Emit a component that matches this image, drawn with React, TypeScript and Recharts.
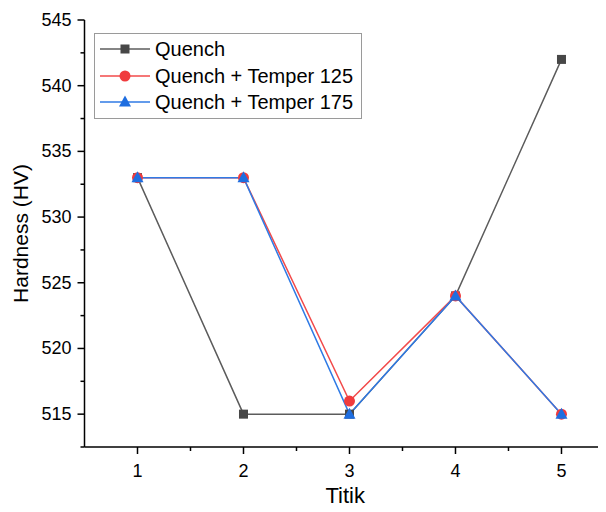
import React from "react";
import { LineChart, Line, XAxis, YAxis } from "recharts";

const titik = [1, 2, 3, 4, 5];
const quench = [533, 515, 515, 524, 542];
const temper125 = [533, 533, 516, 524, 515];
const temper175 = [533, 533, 515, 524, 515];

const xTicks = [1, 1.5, 2, 2.5, 3, 3.5, 4, 4.5, 5];
const yTicks = [512.5, 515, 517.5, 520, 522.5, 525, 527.5, 530, 532.5, 535, 537.5, 540, 542.5, 545];

const data = titik.map((t, i) => ({
  titik: t,
  quench: quench[i],
  temper125: temper125[i],
  temper175: temper175[i],
}));

const FONT = "'Liberation Sans', Arial, sans-serif";

const series = [
  { key: "quench", name: "Quench", line: "#5c5c5c", fill: "#474747", shape: "square" },
  { key: "temper125", name: "Quench + Temper 125", line: "#f24a4a", fill: "#f03b3d", shape: "circle" },
  { key: "temper175", name: "Quench + Temper 175", line: "#2f7ae5", fill: "#1f6ee0", shape: "triangle" },
];

const Marker = ({ shape, cx, cy, fill }: any) => {
  if (cx == null || cy == null) return null;
  if (shape === "square") return <rect x={cx - 4.5} y={cy - 4.5} width={9} height={9} fill={fill} />;
  if (shape === "circle") return <circle cx={cx} cy={cy} r={5.5} fill={fill} />;
  return <polygon points={`${cx},${cy - 6.5} ${cx + 6},${cy + 4.5} ${cx - 6},${cy + 4.5}`} fill={fill} />;
};

const XTick = ({ x, y, payload }: any) => {
  const major = Number.isInteger(payload.value);
  return (
    <g>
      <line x1={x} x2={x} y1={y} y2={y + (major ? 7 : 4)} stroke="#000" strokeWidth={1.5} />
      {major && (
        <text x={x} y={y + 30} textAnchor="middle" fontSize={18} fontFamily={FONT} fill="#000">
          {payload.value}
        </text>
      )}
    </g>
  );
};

const YTick = ({ x, y, payload }: any) => {
  const major = payload.value % 5 === 0;
  return (
    <g>
      <line x1={x} x2={x - (major ? 7 : 4)} y1={y} y2={y} stroke="#000" strokeWidth={1.5} />
      {major && (
        <text x={x - 13} y={y + 6} textAnchor="end" fontSize={18} fontFamily={FONT} fill="#000">
          {payload.value}
        </text>
      )}
    </g>
  );
};

// axis title under the x axis, placed from the axis' own viewBox
const XTitle = ({ viewBox }: any) => {
  if (!viewBox) return null;
  return (
    <text
      x={viewBox.x + viewBox.width / 2}
      y={viewBox.y + viewBox.height - 9}
      textAnchor="middle"
      fontSize={22}
      fontFamily={FONT}
      fill="#000"
    >
      Titik
    </text>
  );
};

const LegendBox = () => (
  <div
    style={{
      position: "absolute",
      top: 33,
      left: 94,
      border: "1px solid #9a9a9a",
      background: "#fff",
      padding: "2px 8px 2px 3px",
      fontFamily: FONT,
      fontSize: 20,
      lineHeight: "26.5px",
      color: "#000",
    }}
  >
    {series.map((s) => (
      <div key={s.key} style={{ display: "flex", alignItems: "center" }}>
        <svg width={54} height={20} style={{ marginRight: 3 }}>
          <line x1={2} x2={52} y1={10} y2={10} stroke={s.line} strokeWidth={1.5} />
          <Marker shape={s.shape} cx={27} cy={10} fill={s.fill} />
        </svg>
        <span>{s.name}</span>
      </div>
    ))}
  </div>
);

export default function App() {
  return (
    <div style={{ position: "relative", margin: -8, width: 606, height: 512, overflow: "hidden", background: "#fff" }}>
      <LineChart width={606} height={512} data={data} margin={{ top: 20, right: 0, bottom: 0, left: 0 }}>
        <XAxis
          dataKey="titik"
          type="number"
          domain={[0.5, 5.42]}
          ticks={xTicks}
          allowDataOverflow
          height={65}
          tickSize={0}
          tickMargin={0}
          tick={<XTick />}
          axisLine={{ stroke: "#000", strokeWidth: 1.5 }}
          tickLine={false}
          label={<XTitle />}
        />
        <YAxis
          type="number"
          domain={[512.5, 545]}
          ticks={yTicks}
          allowDataOverflow
          width={84.5}
          tickSize={0}
          tickMargin={0}
          tick={<YTick />}
          axisLine={{ stroke: "#000", strokeWidth: 1.5 }}
          tickLine={false}
          label={{
            value: "Hardness (HV)",
            angle: -90,
            position: "insideLeft",
            offset: 21,
            fontSize: 21,
            fontFamily: FONT,
            fill: "#000",
            style: { textAnchor: "middle" },
          }}
        />
        {series.map((s) => (
          <Line
            key={s.key}
            dataKey={s.key}
            name={s.name}
            stroke={s.line}
            strokeWidth={1.5}
            dot={(p: any) => <Marker key={`${s.key}-${p.index}`} shape={s.shape} cx={p.cx} cy={p.cy} fill={s.fill} />}
            activeDot={false}
            isAnimationActive={false}
          />
        ))}
      </LineChart>
      <LegendBox />
    </div>
  );
}
